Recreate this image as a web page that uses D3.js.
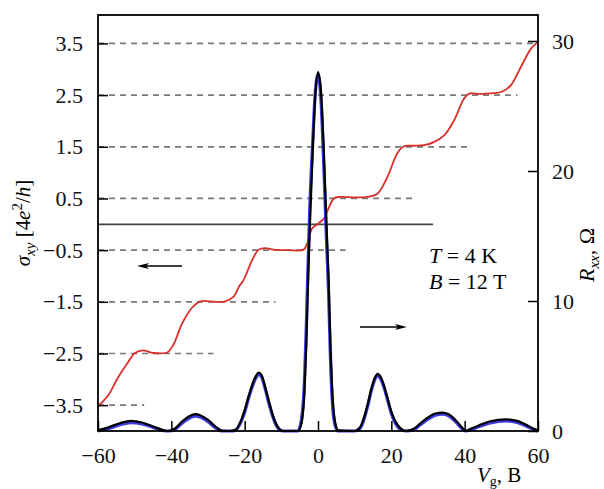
<!DOCTYPE html>
<html>
<head>
<meta charset="utf-8">
<script src="https://cdn.jsdelivr.net/npm/d3@7"></script>
<style>
  body { margin: 0; background: #fff; }
  text { font-family: "Liberation Serif", "DejaVu Serif", serif; }
</style>
</head>
<body>
<div id="chart"></div>
<script>
// sigma_xy (red), gate voltage V and value in 4e^2/h
var sigV   = [-60, -59, -57.2, -54.5, -51.8, -49.9, -47.7, -45, -41.1, -39.5, -37, -34.3, -32.1, -28, -25.3, -23, -21.5, -20.3, -18, -16.2, -14.3, -12.1, -8, -3.9, -2.95, -1.6, -0.2, 1.6, 3, 4.3, 6, 10, 13.4, 16.2, 18.9, 21.6, 23.4, 26, 28.9, 31.6, 34.4, 37.1, 39.8, 41.2, 44, 46.2, 49.9, 52.6, 55.3, 58.1, 60];
var sigVal = [-3.52, -3.45, -3.31, -2.96, -2.67, -2.49, -2.44, -2.49, -2.48, -2.34, -1.91, -1.61, -1.49, -1.5, -1.49, -1.40, -1.2, -1.08, -0.70, -0.49, -0.46, -0.49, -0.5, -0.49, -0.37, -0.08, 0, 0.11, 0.33, 0.5, 0.53, 0.52, 0.53, 0.59, 0.91, 1.37, 1.51, 1.52, 1.53, 1.59, 1.72, 2.01, 2.43, 2.53, 2.52, 2.53, 2.56, 2.69, 3.04, 3.40, 3.53];

// R_xx, Ohm
var rV     = [-60, -57, -54, -51, -48, -45, -42, -40.8, -39, -37, -35, -33.5, -32, -30, -28, -26, -24, -22.5, -21, -20, -19, -18, -17, -16.2, -15.4, -14.5, -13.5, -12.5, -11.5, -10.5, -9.5, -5.5, -4.5, -3.7, -3.2, -2.7, -2.2, -1.4, -0.8, 0, 0.8, 1.5, 2.3, 2.9, 3.4, 3.9, 4.6, 5.5, 10, 11.5, 12.5, 13.5, 14.5, 15.5, 16.3, 17, 18, 19, 20, 21, 22.5, 24, 26, 28, 30, 32, 33.9, 35.5, 37.5, 39.5, 40.3, 41.5, 44, 47, 51.2, 54, 57, 59, 60];
var rBlack = [0.05, 0.3, 0.6, 0.78, 0.65, 0.35, 0.05, 0, 0.2, 0.75, 1.15, 1.3, 1.2, 0.85, 0.35, 0.02, 0, 0.1, 0.8, 1.6, 2.6, 3.5, 4.2, 4.5, 4.3, 3.5, 2.4, 1.4, 0.6, 0.15, 0, 0, 0.6, 3, 6.5, 11.6, 16, 21.8, 25.5, 27.6, 26.2, 22.2, 16, 11.6, 6.5, 3, 0.8, 0.05, 0, 0.3, 1.0, 2.0, 3.2, 4.1, 4.4, 4.2, 3.5, 2.5, 1.5, 0.8, 0.2, 0, 0.15, 0.6, 1.05, 1.35, 1.42, 1.3, 0.85, 0.2, 0, 0.15, 0.45, 0.75, 0.9, 0.8, 0.45, 0.15, 0.05];
var rBlue  = [0, 0.2, 0.48, 0.65, 0.55, 0.28, 0.02, 0, 0.12, 0.62, 1.0, 1.15, 1.05, 0.72, 0.25, 0, 0, 0.05, 0.7, 1.45, 2.45, 3.35, 4.05, 4.35, 4.15, 3.35, 2.25, 1.25, 0.5, 0.1, 0, 0, 0.9, 3.8, 8, 13, 17.5, 22.5, 25.8, 27.4, 25.5, 21, 14.8, 10.5, 5.5, 2.3, 0.5, 0, 0, 0.2, 0.85, 1.85, 3.05, 3.95, 4.25, 4.05, 3.35, 2.35, 1.35, 0.65, 0.12, 0, 0.08, 0.5, 0.92, 1.22, 1.3, 1.18, 0.72, 0.12, 0, 0.08, 0.35, 0.62, 0.78, 0.68, 0.35, 0.08, 0];

// dashed plateau guides: level and where they stop (V)
var plateauLevels = [3.5, 2.5, 1.5, 0.5, -0.5, -1.5, -2.5, -3.5];
var plateauEnds   = [60, 54.4, 41.7, 26.2, 7.5, -11.6, -28.5, -47.4];
var zeroLineEnd = 31.4;

var xTicks = [-60, -40, -20, 0, 20, 40, 60];
var leftTicks = [3.5, 2.5, 1.5, 0.5, -0.5, -1.5, -2.5, -3.5];
var rightTicks = [0, 10, 20, 30];

var width = 604, height = 489;
var svg = d3.select("#chart").append("svg")
    .attr("width", width)
    .attr("height", height);

var x = d3.scaleLinear().domain([-60, 60]).range([98, 538]);
var yL = d3.scaleLinear().domain([-4, 4.05]).range([431, 15]);
var yR = d3.scaleLinear().domain([0, 32]).range([431, 15]);

// dashed lines
plateauLevels.forEach(function(s, i){
    svg.append("line")
        .attr("x1", x(-60)).attr("x2", x(plateauEnds[i]))
        .attr("y1", yL(s)).attr("y2", yL(s))
        .attr("stroke", "#7a7a7a")
        .attr("stroke-width", 1.7)
        .attr("stroke-dasharray", "6,5");
});

// zero line
svg.append("line")
    .attr("x1", x(-60)).attr("x2", x(zeroLineEnd))
    .attr("y1", yL(0)).attr("y2", yL(0))
    .attr("stroke", "#444")
    .attr("stroke-width", 1.8);

// sigma curve
var sigData = sigV.map(function(v, i){ return [v, sigVal[i]]; });
svg.append("path")
    .datum(sigData)
    .attr("fill", "none")
    .attr("stroke", "#d9302c")
    .attr("stroke-width", 1.8)
    .attr("d", d3.line().x(d => x(d[0])).y(d => yL(d[1])).curve(d3.curveCatmullRom.alpha(0.5)));

// Rxx curves
var lineR = d3.line().x(d => x(d[0])).y(d => yR(d[1])).curve(d3.curveMonotoneX);
svg.append("path")
    .datum(rV.map(function(v, i){ return [v, rBlue[i]]; }))
    .attr("fill", "none")
    .attr("stroke", "#3b3be0")
    .attr("stroke-width", 3.2)
    .attr("d", lineR);
svg.append("path")
    .datum(rV.map(function(v, i){ return [v, rBlack[i]]; }))
    .attr("fill", "none")
    .attr("stroke", "#000")
    .attr("stroke-width", 2.2)
    .attr("d", lineR);

// axes
var gx = svg.append("g")
    .attr("transform", "translate(0," + 431 + ")")
    .call(d3.axisBottom(x).tickValues(xTicks).tickSizeInner(-10).tickSizeOuter(0).tickPadding(16)
        .tickFormat(d => d < 0 ? "\u2212" + Math.abs(d) : d));

var gl = svg.append("g")
    .attr("transform", "translate(98,0)")
    .call(d3.axisLeft(yL).tickValues(leftTicks).tickSizeInner(-10).tickSizeOuter(0).tickPadding(15)
        .tickFormat(d => d < 0 ? "\u2212" + Math.abs(d).toFixed(1) : d.toFixed(1)));

var gr = svg.append("g")
    .attr("transform", "translate(538,0)")
    .call(d3.axisRight(yR).tickValues(rightTicks).tickSizeInner(-10).tickSizeOuter(0).tickPadding(14));

[gx, gl, gr].forEach(function(g){
    g.select(".domain").remove();
    g.selectAll("line").attr("stroke", "#000").attr("stroke-width", 1.5);
    g.selectAll("text").attr("font-size", 22).attr("fill", "#111")
        .style("font-family", "'Liberation Serif', serif");
});

// frame
svg.append("rect")
    .attr("x", 98).attr("y", 15)
    .attr("width", 440).attr("height", 416)
    .attr("fill", "none")
    .attr("stroke", "#000")
    .attr("stroke-width", 1.8);

// axis labels
var lt = svg.append("text")
    .attr("transform", "translate(30,223) rotate(-90)")
    .attr("text-anchor", "middle")
    .attr("font-size", 21);
lt.append("tspan").attr("font-style", "italic").text("\u03c3");
lt.append("tspan").attr("font-style", "italic").attr("font-size", 15).attr("dy", 5).text("xy");
lt.append("tspan").attr("dy", -5).text(" [4");
lt.append("tspan").attr("font-style", "italic").text("e");
lt.append("tspan").attr("font-size", 15).attr("dy", -8).text("2");
lt.append("tspan").attr("dy", 8).text("/");
lt.append("tspan").attr("font-style", "italic").text("h");
lt.append("tspan").text("]");

var rt = svg.append("text")
    .attr("transform", "translate(594,255) rotate(-90)")
    .attr("text-anchor", "middle")
    .attr("font-size", 22);
rt.append("tspan").attr("font-style", "italic").text("R");
rt.append("tspan").attr("font-style", "italic").attr("font-size", 15).attr("dy", 5).text("xx");
rt.append("tspan").attr("dy", -5).text(", \u03a9");

var xt = svg.append("text")
    .attr("x", 477).attr("y", 482)
    .attr("font-size", 21);
xt.append("tspan").attr("font-style", "italic").text("V");
xt.append("tspan").attr("font-size", 14).attr("dy", 4).text("g");
xt.append("tspan").attr("dy", -4).text(", B");

// annotations
var t1 = svg.append("text").attr("x", 429).attr("y", 263).attr("font-size", 22);
t1.append("tspan").attr("font-style", "italic").text("T");
t1.append("tspan").text(" = 4 K");
var t2 = svg.append("text").attr("x", 429).attr("y", 289).attr("font-size", 22);
t2.append("tspan").attr("font-style", "italic").text("B");
t2.append("tspan").text(" = 12 T");

// arrows
function arrow(x1, x2, y){
    var dir = x2 > x1 ? 1 : -1;
    svg.append("line")
        .attr("x1", x1).attr("x2", x2 - dir * 8)
        .attr("y1", y).attr("y2", y)
        .attr("stroke", "#000").attr("stroke-width", 1.6);
    svg.append("path")
        .attr("d", "M" + x2 + "," + y + "L" + (x2 - dir * 12) + "," + (y - 3) + "L" + (x2 - dir * 9) + "," + y + "L" + (x2 - dir * 12) + "," + (y + 3) + "Z")
        .attr("fill", "#000");
}
arrow(182, 137, 266);
arrow(360, 407, 327);
</script>
</body>
</html>
